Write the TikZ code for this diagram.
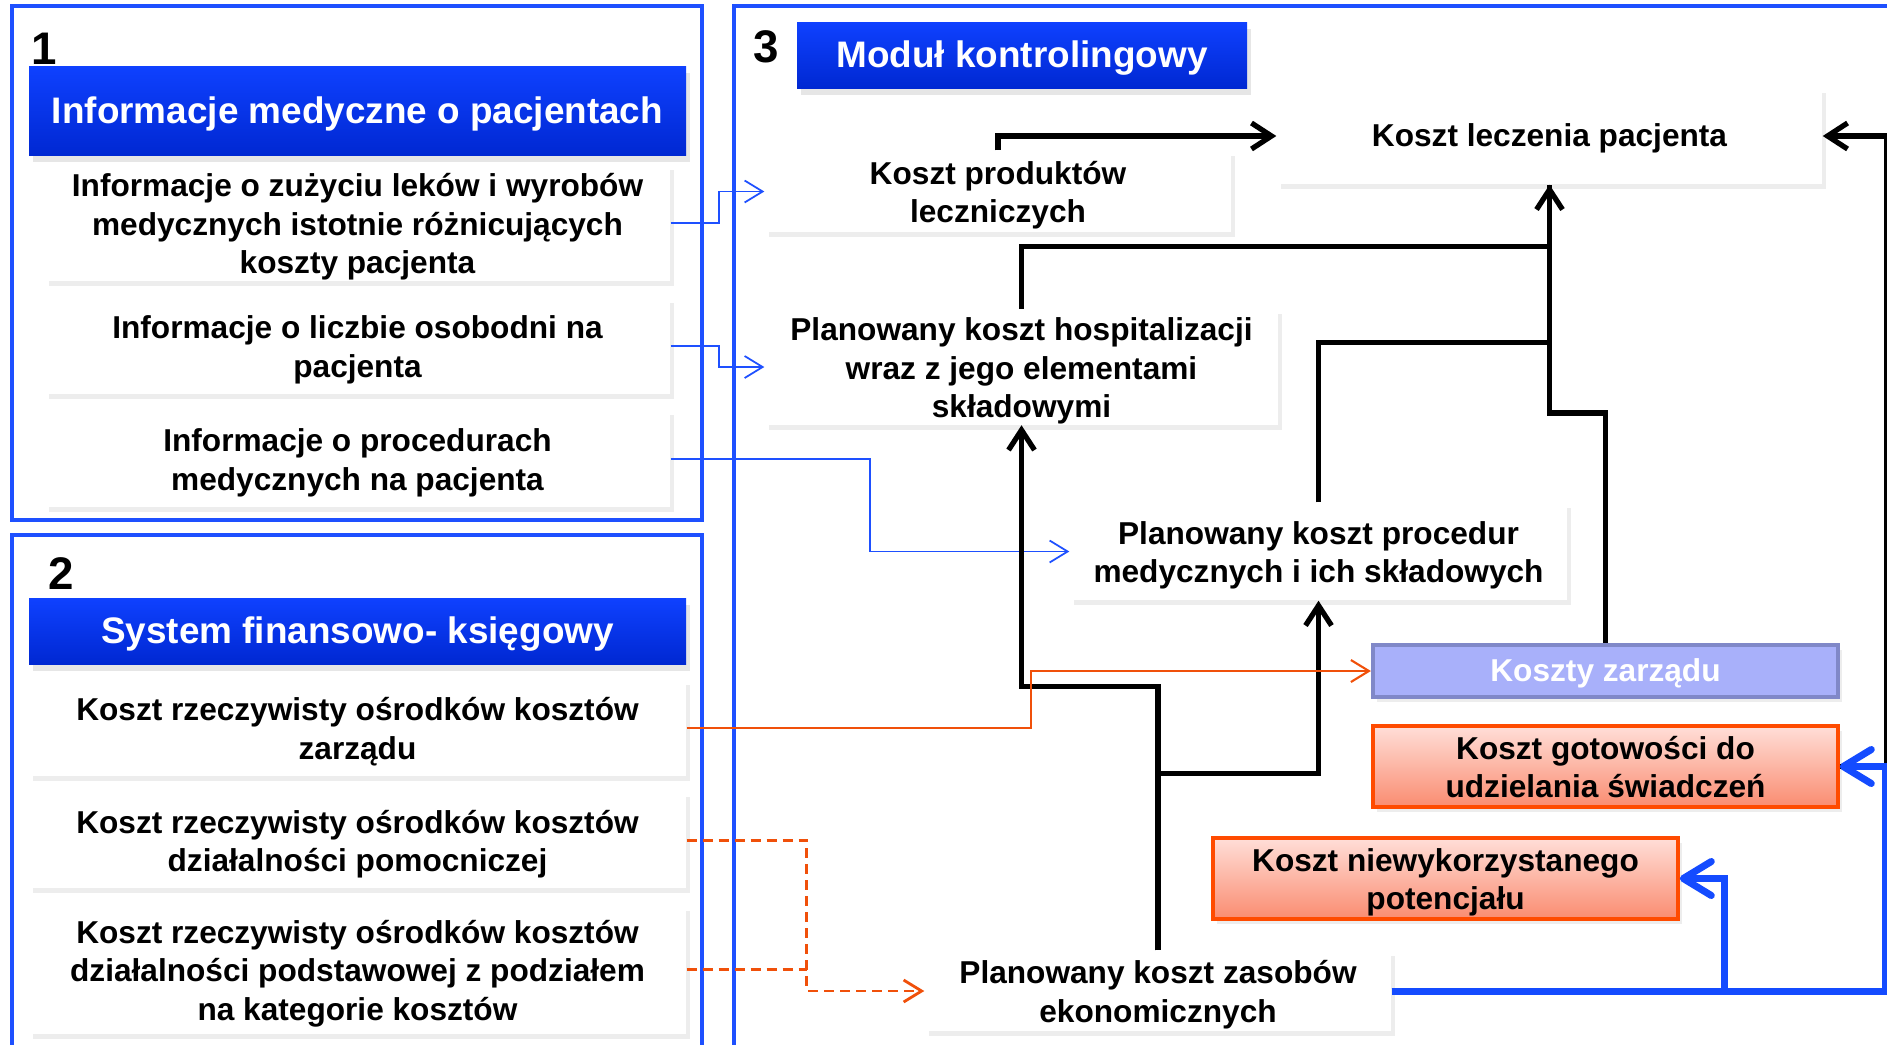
\documentclass[tikz,border=0pt]{standalone}
\usepackage{fontspec}
\setmainfont{Liberation Sans}
\usetikzlibrary{arrows.meta,
                positioning,
                shadows}
\definecolor{panelblue}{RGB}{30,80,255}
\definecolor{bannertop}{RGB}{15,65,255}
\definecolor{bannerbot}{RGB}{0,40,210}
\definecolor{orangeline}{RGB}{240,80,10}
\definecolor{redline}{RGB}{255,75,0}
\definecolor{salmontop}{RGB}{255,222,216}
\definecolor{salmonbot}{RGB}{250,140,112}
\definecolor{lilacfill}{RGB}{168,176,250}
\definecolor{lilacline}{RGB}{128,136,200}
\definecolor{resblue}{RGB}{20,75,255}
\newcommand{\lineup}{\rule{0pt}{0.98em}}

\begin{document}
\begin{tikzpicture}[
		x=0.1mm, y=-0.1mm,
		card/.style={fill=white, inner sep=0pt, align=center,
			font=\fontsize{9}{11}\selectfont\bfseries,
			execute at begin node={\rule{0pt}{0.905em}},
			execute at end node={\rule[-0.212em]{0pt}{0.212em}},
			drop shadow={shadow xshift=0.4mm, shadow yshift=-0.5mm, opacity=0.14}},
		banner/.style={top color=bannertop, bottom color=bannerbot, text=white,
			inner sep=0pt, font=\fontsize{10.5}{12}\selectfont\bfseries,
			execute at begin node={\rule{0pt}{0.905em}},
			execute at end node={\rule[-0.212em]{0pt}{0.212em}},
			drop shadow={shadow xshift=0.4mm, shadow yshift=-0.7mm, opacity=0.2}},
		salmon/.style={card, draw=redline, line width=1pt,
			top color=salmontop, bottom color=salmonbot},
		lilac/.style={card, draw=lilacline, line width=1.2pt, fill=lilacfill, text=white},
		number/.style={font=\fontsize{13}{15}\selectfont\bfseries, inner sep=0pt},
		panel/.style={draw=panelblue, line width=1.2pt},
		infoline/.style={draw=panelblue, line width=0.5pt,
			-{Straight Barb[length=1.8mm,width=2.2mm]}},
		finline/.style={draw=orangeline, line width=0.6pt,
			-{Straight Barb[length=1.8mm,width=2.2mm]}},
		findash/.style={finline, line width=0.8pt, dash pattern=on 1mm off 0.6mm},
		costline/.style={draw=black, line width=1.5pt,
			-{Straight Barb[length=2mm,width=2.6mm]}},
		resline/.style={draw=resblue, line width=2pt,
			-{Straight Barb[length=2.8mm,width=3.4mm,round]}}
	]
		\useasboundingbox (0,0) rectangle (1887,1044);
		\clip (0,0) rectangle (1887,1044);
		\draw[panel] (12,6) rectangle (702,520);
		\draw[panel] (12,535) rectangle (702,1100);
		\draw[panel] (734,6) rectangle (1950,1100);

		\node [number] (nr1) at (44,49) {1};
		\node [banner, minimum width=6.57cm, minimum height=0.89cm] (medinfo) at (357.5,110.5) {Informacje medyczne o pacjentach};
		\node [card, minimum width=6.25cm, minimum height=1.14cm] (drugs) at (357.5,223) {\lineup Informacje o zużyciu leków i wyrobów\\medycznych istotnie różnicujących\\koszty pacjenta};
		\node [card, minimum width=6.25cm, minimum height=0.96cm, below=0.16cm of drugs] (days) {\lineup Informacje o liczbie osobodni na\\pacjenta};
		\node [card, minimum width=6.25cm, minimum height=0.97cm, below=0.15cm of days] (procs) {\lineup Informacje o procedurach\\medycznych na pacjenta};

		\node [number] (nr2) at (61,574) {2};
		\node [banner, minimum width=6.57cm, minimum height=0.66cm] (fininfo) at (357.5,631) {System finansowo- księgowy};
		\node [card, minimum width=6.57cm, minimum height=0.96cm] (mgmtcost) at (357.5,728) {\lineup Koszt rzeczywisty ośrodków kosztów\\zarządu};
		\node [card, minimum width=6.57cm, minimum height=0.96cm, below=0.15cm of mgmtcost] (auxcost) {\lineup Koszt rzeczywisty ośrodków kosztów\\działalności pomocniczej};
		\node [card, minimum width=6.57cm, minimum height=1.28cm, below=0.16cm of auxcost] (basecost) {\lineup Koszt rzeczywisty ośrodków kosztów\\działalności podstawowej z podziałem\\na kategorie kosztów};

		\node [number] (nr3) at (766,47) {3};
		\node [banner, minimum width=4.5cm, minimum height=0.66cm] (module) at (1022,55) {Moduł kontrolingowy};
		\node [card, minimum width=5.45cm, minimum height=0.96cm] (total) at (1549.5,136) {Koszt leczenia pacjenta};
		\node [card, minimum width=4.66cm, minimum height=0.81cm] (products) at (998,191.5) {\lineup Koszt produktów\\leczniczych};
		\node [card, minimum width=5.13cm, minimum height=1.14cm] (hospital) at (1021.5,367) {\lineup Planowany koszt hospitalizacji\\wraz z jego elementami\\składowymi};
		\node [card, minimum width=4.97cm, minimum height=0.97cm] (procedures) at (1318.5,551.5) {\lineup Planowany koszt procedur\\medycznych i ich składowych};
		\node [lilac, minimum width=4.65cm, minimum height=0.52cm] (overhead) at (1605.5,671) {Koszty zarządu};
		\node [salmon, minimum width=4.65cm, minimum height=0.81cm] (readiness) at (1605.5,766.5) {\lineup Koszt gotowości do\\udzielania świadczeń};
		\node [salmon, minimum width=4.65cm, minimum height=0.81cm] (unused) at (1445.5,878.5) {\lineup Koszt niewykorzystanego\\potencjału};
		\node [card, minimum width=4.66cm, minimum height=0.8cm] (resources) at (1158,991) {\lineup Planowany koszt zasobów\\ekonomicznych};

		\draw[infoline] (drugs.east) -- ++(48,0) |- (products.west);
		\draw[infoline] (days.east) -- ++(48,0) |- (hospital.west);
		\draw[infoline] (procs.east) -- ++(199,0) |- (procedures.west);

		\draw[costline, -] (hospital.north) -- ++(0,-62) -| (total.south);
		\draw[costline, -] (procedures.north) -- ++(0,-160) -| (total.south);
		\draw[costline] (overhead.north) -- ++(0,-230) -| (total.south);
		\draw[costline] (products.north) |- (total.west);
		\draw[costline] (resources.north) -- ++(0,-264) -| (hospital.south);
		\draw[costline] (resources.north) -- ++(0,-177) -| (procedures.south);
		\draw[costline] (readiness.east) -- ++(47,0) |- (total.east);

		\draw[finline] (mgmtcost.east) -- ++(344,0) |- (overhead.west);
		\draw[findash] (auxcost.east) -- ++(120,0) |- (resources.west);
		\draw[findash, -] (basecost.east) -- ++(120,0);

		\draw[resline] (resources.east) -- ++(333,0) |- (unused.east);
		\draw[resline] (resources.east) -- ++(494,0) |- (readiness.east);
	\end{tikzpicture}
\end{document}
